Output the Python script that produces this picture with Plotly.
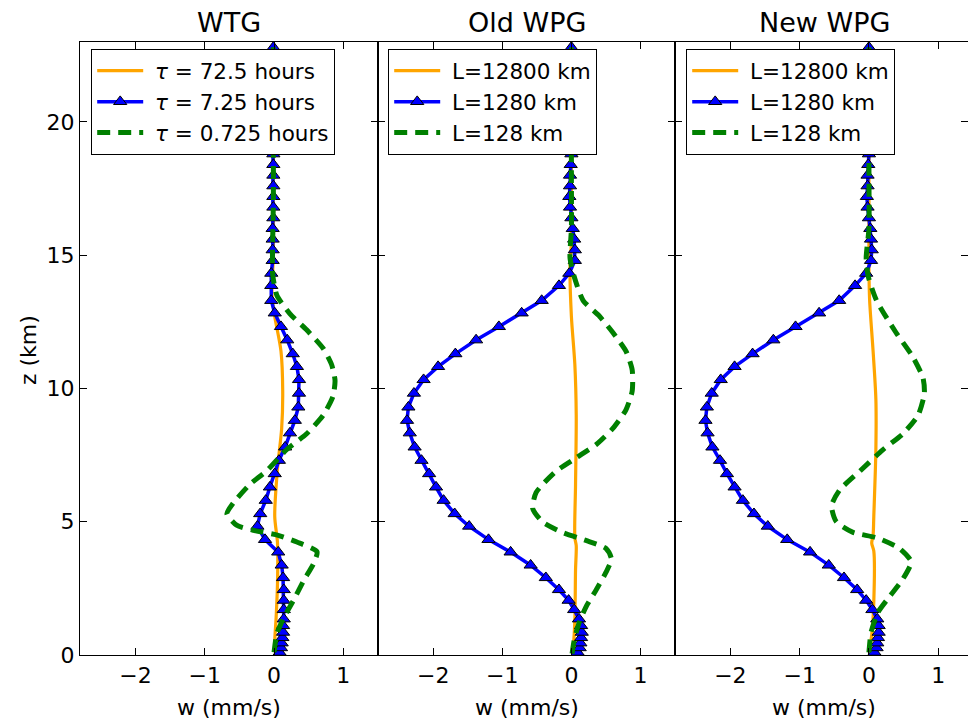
import plotly.graph_objects as go

# ---------------- data ----------------
panel_titles = ["WTG", "Old WPG", "New WPG"]
legend_names = [
    ["<i>τ</i> = 72.5 hours", "<i>τ</i> = 7.25 hours", "<i>τ</i> = 0.725 hours"],
    ["L=12800 km", "L=1280 km", "L=128 km"],
    ["L=12800 km", "L=1280 km", "L=128 km"],
]

# model levels (km) where the blue markers sit
z_levels = [0.1, 0.27, 0.45, 0.65, 0.85, 1.1, 1.35, 1.7, 2.05, 2.45, 2.9, 3.37, 3.86,
            4.33, 4.83, 5.3, 5.8, 6.3, 6.8, 7.3, 7.8, 8.33, 8.8, 9.3, 9.82, 10.33,
            10.82, 11.3, 11.82, 12.32, 12.83, 13.3, 13.86, 14.32, 14.8,
            15.2, 15.6, 16.0, 16.4, 16.8, 17.2, 17.6, 18.0, 18.4, 18.8, 19.2, 19.6,
            20.0, 20.4, 20.8, 21.2, 21.6, 22.0, 22.4, 22.8]

blue_wtg = [0.08, 0.10, 0.11, 0.12, 0.13, 0.13, 0.14, 0.14, 0.14, 0.14, 0.13, 0.11, 0.06,
            -0.13, -0.24, -0.20, -0.12, -0.06, 0.01, 0.07, 0.16, 0.23, 0.30, 0.35, 0.36, 0.36,
            0.33, 0.27, 0.19, 0.10, 0.01, -0.04, -0.04, -0.04, -0.02,
            -0.02, -0.02, -0.02, -0.01, -0.01, -0.01, -0.01, -0.01, -0.01, -0.01, -0.01, -0.01,
            -0.01, -0.01, -0.01, -0.01, -0.01, -0.01, -0.01, -0.01]
blue_old = [0.09, 0.12, 0.13, 0.14, 0.15, 0.14, 0.11, 0.04, -0.04, -0.18, -0.37, -0.59, -0.88,
            -1.20, -1.48, -1.69, -1.85, -1.96, -2.06, -2.17, -2.27, -2.34, -2.38, -2.36, -2.28, -2.14,
            -1.93, -1.68, -1.38, -1.05, -0.72, -0.43, -0.18, -0.03, 0.05,
            0.05, 0.04, 0.02, 0.00, -0.02, -0.03, -0.02, -0.02, -0.01, 0.00, 0.00, 0.00,
            0.00, 0.00, 0.00, 0.00, 0.00, 0.00, 0.00, 0.00]
blue_new = [0.08, 0.11, 0.12, 0.13, 0.14, 0.14, 0.12, 0.05, -0.04, -0.17, -0.36, -0.58, -0.85,
            -1.18, -1.46, -1.66, -1.82, -1.94, -2.05, -2.15, -2.26, -2.33, -2.36, -2.34, -2.27, -2.14,
            -1.94, -1.68, -1.38, -1.06, -0.72, -0.43, -0.20, -0.04, 0.03,
            0.04, 0.03, 0.02, 0.00, -0.02, -0.03, -0.02, -0.02, -0.01, 0.00, 0.00, 0.00,
            0.00, 0.00, 0.00, 0.00, 0.00, 0.00, 0.00, 0.00]

# orange (largest tau / L) profiles
z_orange_wtg = [0.1, 0.5, 1.4, 2.7, 4.2, 5.2, 7.0, 8.5, 9.9, 11.4, 12.7, 13.5, 15.0, 18.0, 22.8]
w_orange_wtg = [0.02, 0.01, 0.03, 0.05, 0.05, 0.01, 0.05, 0.11, 0.125, 0.10, 0.01, -0.03, -0.01, -0.01, 0.0]
z_orange_old = [0.1, 0.35, 1.3, 3.2, 4.1, 4.4, 6.4, 9.0, 10.9, 12.7, 14.5, 15.5, 18.0, 22.8]
w_orange_old = [0.02, 0.03, 0.05, 0.06, 0.07, 0.05, 0.06, 0.07, 0.05, 0.0, -0.02, 0.0, 0.0, 0.0]
z_orange_new = [0.1, 0.75, 2.0, 3.9, 4.2, 4.5, 5.2, 7.7, 9.6, 11.4, 13.3, 14.5, 15.5, 18.0, 22.8]
w_orange_new = [0.0, 0.04, 0.07, 0.07, 0.04, 0.06, 0.07, 0.10, 0.10, 0.06, 0.01, 0.0, 0.0, 0.0, 0.0]

# green (smallest tau / L) profiles
z_green_wtg = [0.1, 0.8, 1.4, 2.05, 2.8, 3.43, 3.87, 4.24, 4.49, 4.68, 4.87, 5.3, 5.7, 6.4, 6.9,
               7.7, 8.3, 9.0, 9.7, 10.3, 10.9, 11.5, 12.2, 12.8, 13.5, 14.3, 15.5, 17.0, 20.0, 22.8]
w_green_wtg = [0.0, 0.04, 0.14, 0.28, 0.43, 0.57, 0.62, 0.33, 0.06, -0.30, -0.54, -0.68, -0.59, -0.35, -0.11,
               0.18, 0.47, 0.71, 0.85, 0.88, 0.83, 0.71, 0.47, 0.23, 0.04, -0.02, -0.02, -0.01, -0.01, -0.01]
z_green_old = [0.05, 0.55, 1.2, 1.8, 2.45, 3.1, 3.6, 4.0, 4.3, 4.6, 5.0, 5.5, 6.1, 6.9, 7.4,
               7.9, 8.5, 9.2, 9.9, 10.7, 11.4, 12.1, 12.7, 13.3, 14.2, 14.9, 16.0, 18.0, 22.8]
w_green_old = [0.01, 0.04, 0.11, 0.21, 0.36, 0.50, 0.58, 0.50, 0.21, -0.13, -0.42, -0.56, -0.51, -0.22, 0.07,
               0.36, 0.60, 0.79, 0.88, 0.88, 0.79, 0.60, 0.41, 0.17, 0.04, -0.02, 0.0, 0.0, 0.0]
z_green_new = [0.1, 0.4, 0.85, 1.6, 2.2, 2.85, 3.5, 4.0, 4.4, 4.6, 5.0, 5.6, 6.2, 6.9, 7.7,
               8.3, 9.0, 9.8, 10.4, 11.2, 12.1, 13.3, 14.2, 14.9, 16.0, 18.0, 22.8]
w_green_new = [0.0, 0.01, 0.03, 0.13, 0.30, 0.49, 0.61, 0.44, 0.11, -0.23, -0.47, -0.54, -0.42, -0.13, 0.20,
               0.49, 0.71, 0.80, 0.78, 0.63, 0.39, 0.11, -0.01, -0.04, 0.0, 0.0, 0.0]

x_ticks = [-2, -1, 0, 1]
y_ticks = [0, 5, 10, 15, 20]

# ---------------- figure ----------------
W, H = 968, 725
FONT = "DejaVu Sans"
ORANGE, BLUE, GREEN = "#FFA500", "#0000FF", "#008000"
NB = "\u00a0"

panels_px = [(80, 378), (378, 675), (675, 968)]
x_ranges = [[-2.8, 1.5], [-2.8, 1.5], [-2.8, 1.43]]
plot_top, plot_bottom = 42, 655
ydom = [(H - plot_bottom) / H, (H - plot_top) / H]

orange = [(z_orange_wtg, w_orange_wtg), (z_orange_old, w_orange_old), (z_orange_new, w_orange_new)]
blue = [blue_wtg, blue_old, blue_new]
green = [(z_green_wtg, w_green_wtg), (z_green_old, w_green_old), (z_green_new, w_green_new)]

fig = go.Figure()
for i in range(3):
    xa = "x" if i == 0 else f"x{i+1}"
    ya = "y" if i == 0 else f"y{i+1}"
    lg = "legend" if i == 0 else f"legend{i+1}"
    zo, wo = orange[i]
    fig.add_trace(go.Scatter(x=wo, y=zo, xaxis=xa, yaxis=ya, mode="lines",
                             line=dict(color=ORANGE, width=3.2, shape="spline", smoothing=0.8),
                             name=NB + legend_names[i][0], legend=lg, legendgroup=f"o{i}"))
    fig.add_trace(go.Scatter(x=blue[i], y=z_levels, xaxis=xa, yaxis=ya, mode="lines+markers",
                             line=dict(color=BLUE, width=3.5),
                             marker=dict(symbol="triangle-up", size=11.5, color=BLUE,
                                         line=dict(color="black", width=1)),
                             name=NB + legend_names[i][1], legend=lg, legendgroup=f"b{i}"))
    zg, wg = green[i]
    fig.add_trace(go.Scatter(x=wg, y=zg, xaxis=xa, yaxis=ya, mode="lines",
                             line=dict(color=GREEN, width=5, dash="13px,8px", shape="spline", smoothing=0.6),
                             name=NB + legend_names[i][2], legend=lg, legendgroup=f"g{i}"))

axis_common = dict(showgrid=False, zeroline=False, showline=True, linecolor="black", linewidth=1.3,
                   mirror="ticks", ticks="inside", ticklen=7, tickwidth=1, tickcolor="black",
                   automargin=False,
                   tickfont=dict(family=FONT, size=22, color="black"))

layout = dict(template="none", width=W, height=H, margin=dict(l=0, r=0, t=0, b=0, pad=0),
              autosize=False,
              plot_bgcolor="white", paper_bgcolor="white",
              font=dict(family=FONT, color="black"))
annotations = []
for i in range(3):
    sfx = "" if i == 0 else str(i + 1)
    x0, x1 = panels_px[i]
    layout["xaxis" + sfx] = dict(axis_common, domain=[x0 / W, x1 / W], range=x_ranges[i],
                                 tickvals=x_ticks, anchor="y" + sfx)
    ydict = dict(axis_common, domain=ydom, range=[0, 23], tickvals=y_ticks, anchor="x" + sfx)
    if i > 0:
        ydict["showticklabels"] = False
        ydict["matches"] = "y"
    layout["yaxis" + sfx] = ydict
    lx = [91, 388, 686][i]
    layout["legend" if i == 0 else f"legend{i+1}"] = dict(
        x=lx / W, y=1 - 49 / H, xanchor="left", yanchor="top",
        bordercolor="black", borderwidth=1.2, bgcolor="white",
        font=dict(family=FONT, size=21.5, color="black"),
        tracegroupgap=4, itemwidth=46, traceorder="normal")
    cx = (x0 + [378, 675, 973][i]) / 2
    annotations.append(dict(text=panel_titles[i], x=cx / W, y=1 - 23 / H, xref="paper", yref="paper",
                            xanchor="center", yanchor="middle", showarrow=False,
                            font=dict(family=FONT, size=27, color="black")))
    annotations.append(dict(text="w (mm/s)", x=cx / W, y=1 - 707 / H, xref="paper", yref="paper",
                            xanchor="center", yanchor="middle", showarrow=False,
                            font=dict(family=FONT, size=22, color="black")))
annotations.append(dict(text="z (km)", x=28 / W, y=1 - 350 / H, xref="paper", yref="paper",
                        xanchor="center", yanchor="middle", showarrow=False, textangle=-90,
                        font=dict(family=FONT, size=22, color="black")))
layout["annotations"] = annotations
layout["showlegend"] = True
fig.update_layout(**layout)

fig.write_html("out.html")
